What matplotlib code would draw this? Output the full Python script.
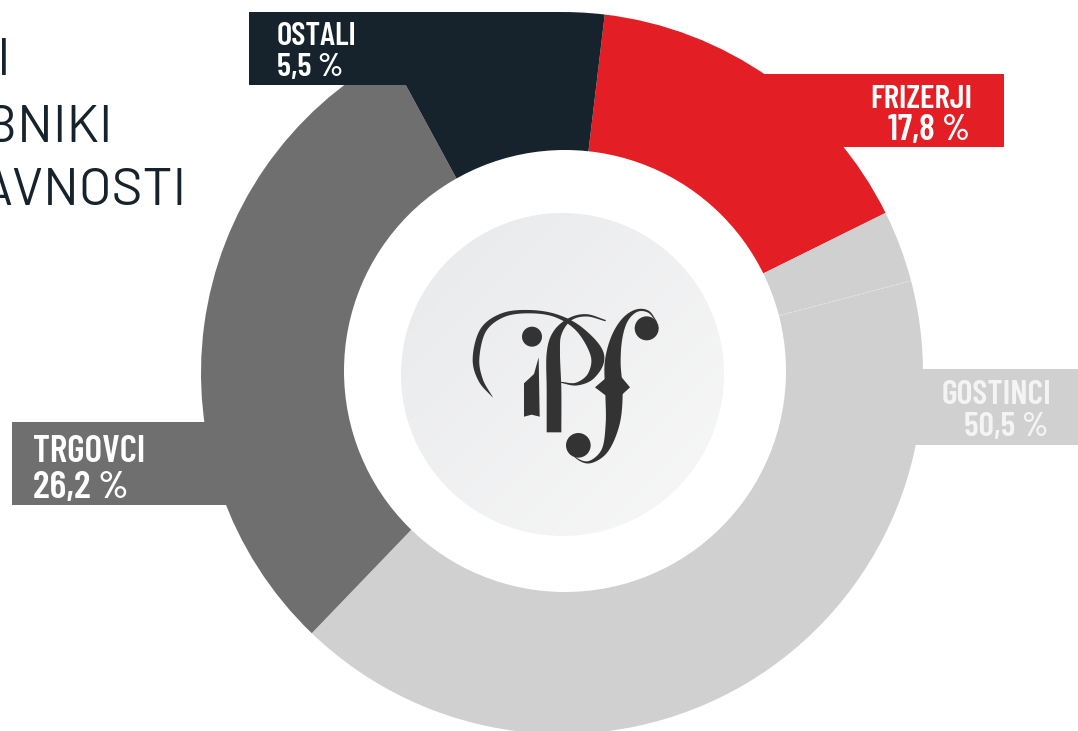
import numpy as np
import matplotlib
matplotlib.use("Agg")
import matplotlib.pyplot as plt
from matplotlib.colors import LinearSegmentedColormap
from matplotlib.patches import Circle, Polygon, Rectangle

W, H = 1078, 731

# Data: ring shares as drawn in the picture (clockwise from the red wedge)
segments = ["Frizerji", "Gostinci a", "Gostinci b", "Trgovci", "Ostali"]
drawn_share = [15.8, 3.2, 41.3, 29.9, 9.8]
segment_colors = ["#e31e24", "#d0d0d0", "#d0d0d0", "#706f6f", "#16232c"]

# Printed labels
label_names = ["OSTALI", "FRIZERJI", "GOSTINCI", "TRGOVCI"]
label_values = ["5,5 %", "17,8 %", "50,5 %", "26,2 %"]
heading_lines = ["I", "BNIKI", "AVNOSTI"]

CX, CY, R_OUT, R_LOGO = 562, 358, 361, 161.5
START = 83.2
DARK = "#16232c"
LOGO_C = "#333333"

fig = plt.figure(figsize=(W / 100, H / 100), dpi=100, facecolor="white")
ax = fig.add_axes([0, 0, 1, 1])


def py(y):
    return H - y


# Ring: full wedges, with the white hole laid over them
ax.pie(drawn_share, colors=segment_colors, startangle=START, counterclock=False,
       center=(CX, CY), radius=R_OUT, frame=True,
       wedgeprops=dict(linewidth=0), normalize=True)
ax.set_xlim(0, W)
ax.set_ylim(0, H)
ax.set_aspect("equal")
ax.axis("off")

# Seam between the two pale wedges
seam = np.deg2rad(START - 3.6 * sum(drawn_share[:2]))
ax.plot([CX + 200 * np.cos(seam), CX + R_OUT * np.cos(seam)],
        [CY + 200 * np.sin(seam), CY + R_OUT * np.sin(seam)],
        color="#e4e4e4", lw=0.6, ls=(0, (4, 2)), zorder=3)

ax.add_patch(Circle((565, py(371)), 221, fc="white", ec="none", zorder=3.5))

# Label boxes
boxes = [(249, 12, 314, 73, DARK), (700, 74, 304, 73, "#e31e24"),
         (900, 369, 178, 76, "#d0d0d0"), (12, 422, 250, 83, "#706f6f")]
for x, y, w, h, c in boxes:
    ax.add_patch(Rectangle((x, py(y + h)), w, h, fc=c, ec="none", zorder=3.2))

# Centre disc with soft gradient
g = np.linspace(0, 1, 256)
gx, gy = np.meshgrid(g, g)
im = ax.imshow((gx + gy) / 2, extent=(562.5 - R_LOGO, 562.5 + R_LOGO, py(374.5) - R_LOGO, py(374.5) + R_LOGO),
               origin="upper", cmap=LinearSegmentedColormap.from_list("d", ["#e8e9eb", "#f8f8f8"]),
               zorder=5, interpolation="bilinear")
ax.set_xlim(0, W)
ax.set_ylim(0, H)
ax.set_aspect("equal")
disc = Circle((562.5, py(374.5)), R_LOGO, transform=ax.transData, fc="none", ec="none")
ax.add_patch(disc)
im.set_clip_path(disc)


# Logo (decorative artwork, coordinates in a zoomed logo space)
def lp(x, y):
    return 440 + x / 3, py(280 + y / 3)


def spline(pts, n=24):
    p = np.array(pts, float)
    p = np.vstack([2 * p[0] - p[1], p, 2 * p[-1] - p[-2]])
    out = []
    for i in range(1, len(p) - 2):
        for t in np.linspace(0, 1, n, endpoint=False):
            a, b, c, d = p[i - 1], p[i], p[i + 1], p[i + 2]
            out.append(0.5 * (2 * b + (c - a) * t + (2 * a - 5 * b + 4 * c - d) * t ** 2 + (3 * b - a - 3 * c + d) * t ** 3))
    out.append(p[-2])
    return np.array(out)


def stroke(pts):
    s = spline(pts)
    xy, w = s[:, :2], np.maximum(s[:, 2], 0.5)
    t = np.gradient(xy, axis=0)
    t /= np.maximum(np.linalg.norm(t, axis=1, keepdims=True), 1e-6)
    nrm = np.c_[-t[:, 1], t[:, 0]]
    poly = np.vstack([xy + nrm * w[:, None] / 2, (xy - nrm * w[:, None] / 2)[::-1]])
    px = np.c_[440 + poly[:, 0] / 3, H - (280 + poly[:, 1] / 3)]
    ax.add_patch(Polygon(px, closed=True, fc=LOGO_C, ec="none", zorder=6))


# arch flowing into the bowl of the P
stroke([(158, 352, 1), (122, 300, 14), (108, 235, 20), (130, 150, 18), (190, 105, 13), (270, 95, 10), (350, 108, 10),
        (420, 150, 20), (472, 225, 40), (455, 285, 24), (410, 312, 9), (362, 307, 3)])
# stem of the P with its hairline
stroke([(342, 457, 44), (342, 330, 44), (340, 220, 40), (352, 160, 26), (390, 118, 10), (440, 106, 7), (497, 122, 4)])
# long s / f
stroke([(650, 125, 2), (625, 95, 6), (590, 92, 8), (555, 120, 18), (530, 175, 34), (518, 250, 48), (522, 340, 52), (518, 430, 42),
        (495, 510, 20), (450, 546, 8), (410, 535, 3), (385, 500, 2)])
for cx, cy, r in [(276, 170, 30), (620, 145, 36), (415, 496, 37)]:
    x, y = lp(cx, cy)
    ax.add_patch(Circle((x, y), r / 3, fc=LOGO_C, ec="none", zorder=6))
for shape in ([(252, 410), (252, 310), (282, 282), (296, 232), (299, 410), (275, 404)],
              [(465, 322), (500, 292), (545, 292), (570, 322), (545, 345), (495, 345)]):
    ax.add_patch(Polygon([lp(*q) for q in shape], closed=True, fc=LOGO_C, ec="none", zorder=6))

# Labels
NARROW = dict(family=["Barlow Condensed", "Liberation Sans"], fontweight="semibold", zorder=7)
label_pos = [("left", 277, 45, 23.5, 277, 76, 23.5, "white"), ("right", 972, 108, 24, 970, 140, 26, "white"),
             ("right", 1051, 404, 24.5, 1048, 436, 24.5, "#f4f4f4"), ("left", 33, 462, 27, 33, 498, 28, "white")]
for name, val, (ha, x1, y1, s1, x2, y2, s2, c) in zip(label_names, label_values, label_pos):
    ax.text(x1, py(y1), name, ha=ha, va="baseline", color=c, fontsize=s1, **NARROW)
    ax.text(x2, py(y2), val, ha=ha, va="baseline", color=c, fontsize=s2, **NARROW)

# Cropped heading
for line, x, y in zip(heading_lines, [11, 113, 186], [75, 142, 205]):
    ax.text(x, py(y), line, ha="right", va="baseline", color=DARK,
            family=["Barlow", "Roboto", "DejaVu Sans"], fontweight="normal", fontsize=38, zorder=7)

fig.savefig("out.png", dpi=100, facecolor="white")
